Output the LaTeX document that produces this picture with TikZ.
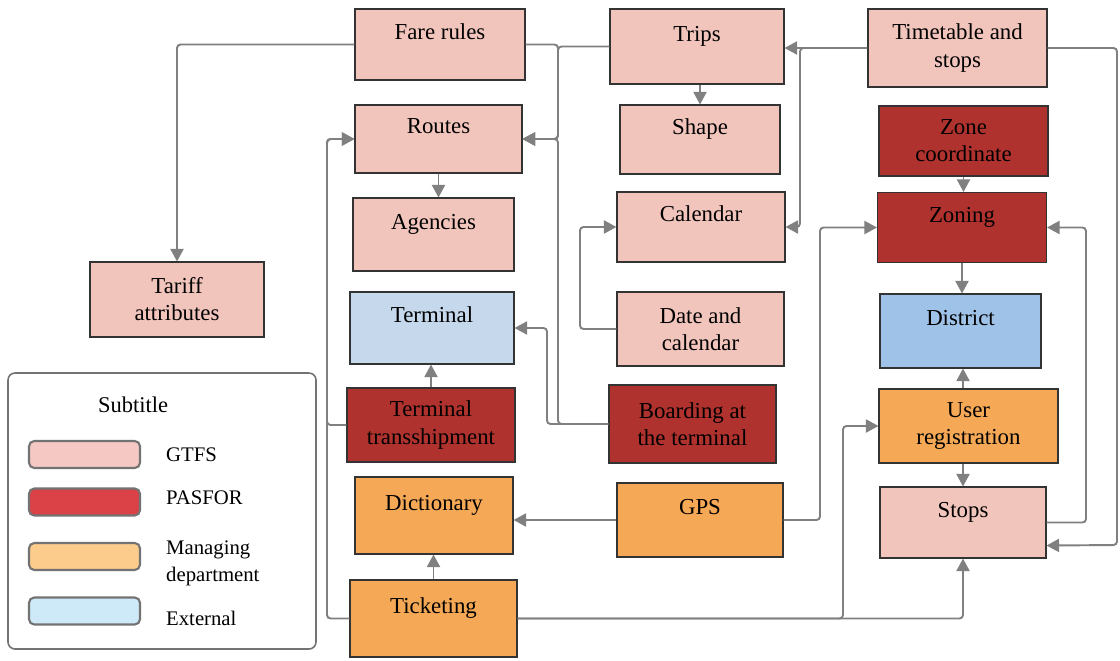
\documentclass[tikz,border=0pt]{standalone}
\usepackage{fontspec}
\setmainfont{Liberation Serif}
\usetikzlibrary{arrows.meta,calc,positioning}

\definecolor{gtfsfill}{HTML}{F1C5BC}
\definecolor{pasforfill}{HTML}{B0322E}
\definecolor{mgmtfill}{HTML}{F5A855}
\definecolor{extfill}{HTML}{C5D8EC}
\definecolor{distfill}{HTML}{9FC2E8}
\definecolor{linkgray}{HTML}{808080}
\definecolor{legGTFS}{HTML}{F5C8C3}
\definecolor{legPASFOR}{HTML}{DA4248}
\definecolor{legMgmt}{HTML}{FCCC8C}
\definecolor{legExt}{HTML}{CEE9F7}

\tikzset{
  wh/.style 2 args={minimum width=#1*0.02cm, minimum height=#2*0.02cm},
  tblbox/.style={draw=black!80, line width=0.6pt, align=center, inner sep=2pt,
    font=\fontsize{13}{15.4}\selectfont},
  oneline/.style={text height=9pt, text depth=15pt},
  gtfsbox/.style={tblbox, fill=gtfsfill},
  pasforbox/.style={tblbox, fill=pasforfill},
  mgmtbox/.style={tblbox, fill=mgmtfill},
  extbox/.style={tblbox, fill=extfill},
  distbox/.style={tblbox, fill=distfill},
  link/.style={draw=linkgray, line width=1.1pt, rounded corners=2pt,
    -{Triangle[length=0.25cm,width=0.26cm]}},
  swatch/.style={draw=black!55, line width=1.2pt, rounded corners=3pt, wh={111}{27}},
  legtext/.style={anchor=west, align=left, font=\fontsize{11.8}{15.3}\selectfont},
}

\begin{document}
\begin{tikzpicture}[x=0.02cm,y=-0.02cm]
\useasboundingbox (0,0) rectangle (1120,660);
%Tabellen, Position in Pixel des Originals
\node[gtfsbox, oneline, wh={170}{71}] (fare) at (440,44.5) {Fare rules};
\node[gtfsbox, oneline, wh={174}{75}] (trips) at (697,46.5) {Trips};
\node[gtfsbox, wh={179}{78}] (timetable) at (957.5,48) {Timetable and\\stops};
\node[gtfsbox, oneline, wh={167}{68}] (routes) at (438.5,139) {Routes};
\node[gtfsbox, oneline, wh={160}{69}] (shape) at (700,139.5) {Shape};
\node[pasforbox, wh={169}{70}] (zonecoord) at (963.5,141) {Zone\\coordinate};
\node[gtfsbox, oneline, wh={161}{73}] (agencies) at (433.5,234.5) {Agencies};
\node[gtfsbox, oneline, wh={168}{70}] (calendar) at (701,227) {Calendar};
\node[pasforbox, oneline, wh={169}{70}] (zoning) at (962,227.5) {Zoning};
\node[gtfsbox, wh={174}{75}] (tariff) at (177,299.5) {Tariff\\attributes};
\node[extbox, oneline, wh={164}{72}] (terminal) at (432,328) {Terminal};
\node[gtfsbox, wh={167}{74}] (datecal) at (700.5,329) {Date and\\calendar};
\node[distbox, oneline, wh={161}{74}] (district) at (960.5,331) {District};
\node[pasforbox, wh={168}{74}] (transship) at (431,425) {Terminal\\transshipment};
\node[pasforbox, wh={167}{78}] (boarding) at (692.5,424) {Boarding at\\the terminal};
\node[mgmtbox, wh={179}{74}] (userreg) at (968.5,426) {User\\registration};
\node[mgmtbox, oneline, wh={158}{77}] (dictionary) at (434,515.5) {Dictionary};
\node[mgmtbox, oneline, wh={166}{74}] (gps) at (700,520) {GPS};
\node[gtfsbox, oneline, wh={166}{71}] (stops) at (963,522.5) {Stops};
\node[mgmtbox, oneline, wh={167}{77}] (ticketing) at (433.5,618.5) {Ticketing};
%Verbindungen
\draw[link] (fare.west) -| (tariff.north);
\draw[link] (fare.east) -| (558,139) -- (routes.east);
\draw[link] (trips.west) -| (558,139) -- (routes.east);
\draw[link] (boarding.west) -| (558,139) -- (routes.east);
\draw[link] (boarding.west) -| (547,328) -- (terminal.east);
\draw[link] (routes.south) -- (routes.south |- agencies.north);
\draw[link] (trips.south -| shape.north) -- (shape.north);
\draw[link] (timetable.west) -- (trips.east |- timetable.west);
\draw[link] (timetable.west) -| (800,227) -- (calendar.east);
\draw[link] (datecal.west) -| (580,227) -- (calendar.west);
\draw[link] (timetable.east) -| (1117,545) -- ($(stops.south east)+(0,-13)$);
\draw[link] (stops.east) -| (1086,227.5) -- (zoning.east);
\draw[link] (gps.east) -| (820,227.5) -- (zoning.west);
\draw[link] (gps.west) -- (gps.west -| dictionary.east);
\draw[link] (ticketing.north) -- (ticketing.north |- dictionary.south);
\draw[link] (transship.north) -- (transship.north |- terminal.south);
\draw[link] (zonecoord.south) -- (zonecoord.south |- zoning.north);
\draw[link] (zoning.south) -- (zoning.south |- district.north);
\draw[link] (userreg.north -| stops.north) -- (stops.north |- district.south);
\draw[link] (userreg.south -| stops.north) -- (stops.north);
\draw[link] (ticketing.east) -| (stops.south);
\draw[link] (ticketing.east) -| (843,426) -- (userreg.west);
\draw[link] (ticketing.west) -| (327,139) -- (routes.west);
\draw[link] (transship.west) -| (327,139) -- (routes.west);
%Legende
\draw[draw=black!55, line width=0.9pt, rounded corners=4pt] (8,373) rectangle (316,649);
\node[font=\fontsize{12.8}{15}\selectfont] (legtitle) at (133,405) {Subtitle};
\foreach \col/\sy/\ly/\txt in {legGTFS/454.5/455/GTFS, legPASFOR/502/498/PASFOR,
    legMgmt/556.5/563.5/{Managing\\department}, legExt/611/618/External}{
  \node[swatch, fill=\col] (sw-\col) at (84.5,\sy) {};
  \node[legtext] (lab-\col) at (160,\ly) {\txt};
}
\end{tikzpicture}
\end{document}
